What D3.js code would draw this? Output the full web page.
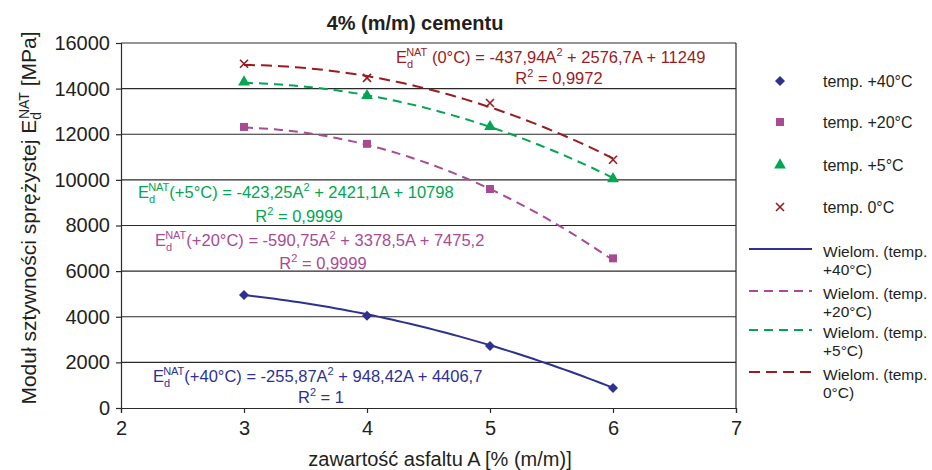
<!DOCTYPE html>
<html>
<head>
<meta charset="utf-8">
<script src="https://cdn.jsdelivr.net/npm/d3@7"></script>
<style>
  body { margin: 0; background: #fff; }
  text { font-family: "Liberation Sans", Arial, sans-serif; fill: #231f20; }
</style>
</head>
<body>
<div id="chart"></div>
<script>
// data
var asphalt = [3, 4, 5, 6];
var temp40 = [4950, 4040, 2720, 880];
var temp20 = [12320, 11580, 9600, 6560];
var temp5 = [14290, 13690, 12330, 10050];
var temp0 = [15090, 14470, 13370, 10880];

// trend line coefficients (a, b, c) as printed on the chart
var fit40 = [-255.87, 948.42, 4406.7];
var fit20 = [-590.75, 3378.5, 7475.2];
var fit5 = [-423.25, 2421.1, 10798];
var fit0 = [-437.94, 2576.7, 11249];

var xTicks = [2, 3, 4, 5, 6, 7];
var yTicks = [0, 2000, 4000, 6000, 8000, 10000, 12000, 14000, 16000];

var seriesNames = ["temp. +40°C", "temp. +20°C", "temp. +5°C", "temp. 0°C"];
var trendNames = [["Wielom. (temp.", "+40°C)"], ["Wielom. (temp.", "+20°C)"],
                  ["Wielom. (temp.", "+5°C)"], ["Wielom. (temp.", "0°C)"]];

var svgWidth = 932;
var svgHeight = 470;
var margin = { top: 43, right: 196, bottom: 62, left: 121 };
var width = svgWidth - margin.left - margin.right;
var height = svgHeight - margin.top - margin.bottom;

var series = [
  { name: seriesNames[0], values: temp40, fit: fit40, color: "#2e3192", shape: "diamond", dash: null },
  { name: seriesNames[1], values: temp20, fit: fit20, color: "#a84b94", shape: "square", dash: "9,6" },
  { name: seriesNames[2], values: temp5, fit: fit5, color: "#00a651", shape: "triangle", dash: "9,6" },
  { name: seriesNames[3], values: temp0, fit: fit0, color: "#9b1b1e", shape: "cross", dash: "11,6" }
];

var svg = d3.select("#chart")
  .append("svg")
  .attr("width", svgWidth)
  .attr("height", svgHeight);

var chartGroup = svg.append("g")
  .attr("transform", `translate(${margin.left}, ${margin.top})`);

// scales
var xScale = d3.scaleLinear().domain([2, 7]).range([0, width]);
var yScale = d3.scaleLinear().domain([0, 16000]).range([height, 0]);

// gridlines
chartGroup.append("g")
  .selectAll("line")
  .data(yTicks.slice(1))
  .enter()
  .append("line")
  .attr("x1", 0)
  .attr("x2", width)
  .attr("y1", d => yScale(d))
  .attr("y2", d => yScale(d))
  .attr("stroke", "#2a2a2a")
  .attr("stroke-width", 1.2);

// right border
chartGroup.append("line")
  .attr("x1", width).attr("x2", width)
  .attr("y1", 0).attr("y2", height)
  .attr("stroke", "#2a2a2a")
  .attr("stroke-width", 1.2);

// axes
var bottomAxis = d3.axisBottom(xScale).tickValues(xTicks).tickSize(5).tickPadding(8).tickFormat(d3.format("d"));
var leftAxis = d3.axisLeft(yScale).tickValues(yTicks).tickSize(5).tickPadding(6).tickFormat(d3.format("d"));

var xAxisG = chartGroup.append("g")
  .attr("transform", `translate(0, ${height})`)
  .call(bottomAxis);
var yAxisG = chartGroup.append("g").call(leftAxis);

[xAxisG, yAxisG].forEach(function(g) {
  g.select(".domain").attr("stroke", "#2a2a2a").attr("stroke-width", 1.2);
  g.selectAll(".tick line").attr("stroke", "#2a2a2a").attr("stroke-width", 1.2);
  g.selectAll(".tick text").style("font-size", "20px").attr("fill", "#231f20");
});

// trend lines from the printed polynomials
function trendPoints(fit) {
  var pts = [];
  for (var i = 0; i <= 60; i++) {
    var a = 3 + i * 3 / 60;
    pts.push([a, fit[0] * a * a + fit[1] * a + fit[2]]);
  }
  return pts;
}

var line = d3.line()
  .x(d => xScale(d[0]))
  .y(d => yScale(d[1]));

series.forEach(function(s) {
  chartGroup.append("path")
    .attr("d", line(trendPoints(s.fit)))
    .attr("fill", "none")
    .attr("stroke", s.color)
    .attr("stroke-width", 2)
    .attr("stroke-dasharray", s.dash);
});

// markers
function drawMarker(g, shape, color, x, y) {
  if (shape === "cross") {
    g.append("path")
      .attr("d", `M${x - 4},${y - 4}L${x + 4},${y + 4}M${x - 4},${y + 4}L${x + 4},${y - 4}`)
      .attr("stroke", color)
      .attr("stroke-width", 1.6)
      .attr("fill", "none");
    return;
  }
  if (shape === "diamond") {
    g.append("path")
      .attr("d", `M${x},${y - 5}L${x + 5},${y}L${x},${y + 5}L${x - 5},${y}Z`)
      .attr("fill", color);
    return;
  }
  var sym = shape === "square" ? d3.symbolSquare : d3.symbolTriangle;
  var size = shape === "square" ? 64 : 60;
  g.append("path")
    .attr("d", d3.symbol().type(sym).size(size)())
    .attr("transform", `translate(${x}, ${y})`)
    .attr("fill", color);
}

series.forEach(function(s) {
  s.values.forEach(function(v, i) {
    drawMarker(chartGroup, s.shape, s.color, xScale(asphalt[i]), yScale(v));
  });
});

// equations
function richText(g, x, y, parts, color, size, anchor) {
  var t = g.append("text")
    .attr("x", x)
    .attr("y", y)
    .attr("text-anchor", anchor || "start")
    .style("font-size", size + "px")
    .style("fill", color);
  var state = 0;
  parts.forEach(function(p) {
    var target = p[1] === "sub" ? 5 : p[1] === "sup" ? -7 : 0;
    var tsp = t.append("tspan")
      .attr("dy", target - state)
      .text(p[0]);
    if (p[1] !== "n") tsp.style("font-size", Math.round(size * 0.68) + "px");
    if (p[2]) tsp.attr("dx", p[2]);
    state = target;
  });
  return t;
}

function equation(label, fit) {
  var a = String(-Math.abs(fit[0])).replace(".", ",");
  var b = String(fit[1]).replace(".", ",");
  var c = String(fit[2]).replace(".", ",");
  return [["E", "n"], ["d", "sub"], ["NAT", "sup", -7], [label + " = " + a + "A", "n"],
          ["2", "sup"], [" + " + b + "A + " + c, "n"]];
}

var eqLabels = ["(+40°C)", "(+20°C)", "(+5°C)", " (0°C)"];
var rSquared = ["1", "0,9999", "0,9999", "0,9972"];
var eqPos = [[153, 382, 321, 403], [155, 246, 323, 269], [138, 198, 299, 222], [396, 63, 559, 84]];

series.forEach(function(s, i) {
  var p = eqPos[i];
  richText(svg, p[0], p[1], equation(eqLabels[i], s.fit), s.color, 16.5);
  richText(svg, p[2], p[3], [["R", "n"], ["2", "sup"], [" = " + rSquared[i], "n"]], s.color, 16.5, "middle");
});

// title and axis labels
svg.append("text")
  .attr("x", 415)
  .attr("y", 30)
  .attr("text-anchor", "middle")
  .style("font-size", "20px")
  .style("font-weight", "bold")
  .text("4% (m/m) cementu");

svg.append("text")
  .attr("x", 440)
  .attr("y", 466)
  .attr("text-anchor", "middle")
  .style("font-size", "20px")
  .text("zawartość asfaltu A [% (m/m)]");

richText(svg, 0, 0, [["Moduł sztywności sprężystej E", "n"], ["d", "sub"], ["NAT", "sup", -7], [" [MPa]", "n"]], "#231f20", 21, "middle")
  .attr("transform", "translate(36, 218) rotate(-90)");

// legend
var legend = svg.append("g");
var markerRows = [81, 122, 165, 207];
series.forEach(function(s, i) {
  drawMarker(legend, s.shape, s.color, 780, markerRows[i]);
  legend.append("text")
    .attr("x", 823)
    .attr("y", markerRows[i] + 6)
    .style("font-size", "16px")
    .text(s.name);
});

var trendRows = [249, 291, 330, 372];
series.forEach(function(s, i) {
  legend.append("line")
    .attr("x1", 749).attr("x2", 812)
    .attr("y1", trendRows[i]).attr("y2", trendRows[i])
    .attr("stroke", s.color)
    .attr("stroke-width", 2)
    .attr("stroke-dasharray", s.dash);
  legend.append("text")
    .attr("x", 823)
    .attr("y", trendRows[i] + 8)
    .style("font-size", "15.5px")
    .text(trendNames[i][0]);
  legend.append("text")
    .attr("x", 823)
    .attr("y", trendRows[i] + 26)
    .style("font-size", "15.5px")
    .text(trendNames[i][1]);
});
</script>
</body>
</html>
